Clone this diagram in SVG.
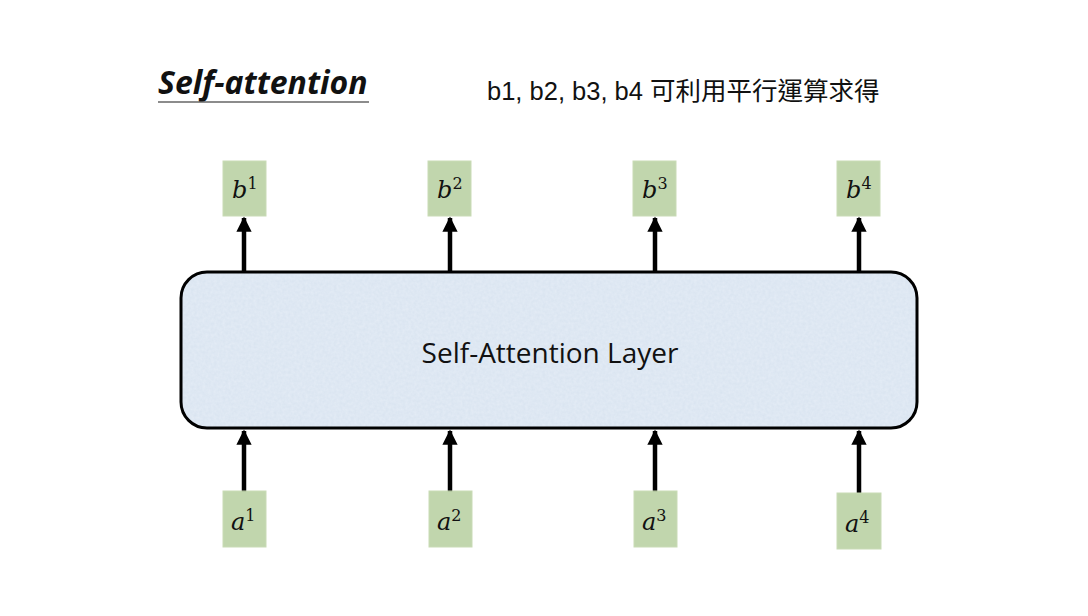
<svg xmlns="http://www.w3.org/2000/svg" width="1088" height="616" viewBox="0 0 1088 616">
<defs>
<style>
.node{fill:#b6cf9f;fill-opacity:0.85;stroke:#c9dbb6;stroke-width:1}
.math{font-family:"DejaVu Serif","Liberation Serif",serif;font-style:italic;font-size:24px;fill:#111}
.sup{font-size:16px;font-style:normal}
.arr{stroke:#000;stroke-width:4.5;fill:none;marker-end:url(#ah)}
</style>
<marker id="ah" viewBox="0 0 10 10" refX="9" refY="5" markerWidth="4" markerHeight="3.4" orient="auto" markerUnits="strokeWidth">
<path d="M0,0 L10,5 L0,10 z" fill="#000"/>
</marker>
<filter id="tex" x="0" y="0" width="100%" height="100%">
<feTurbulence type="fractalNoise" baseFrequency="0.35" numOctaves="2" seed="3" result="n"/>
<feColorMatrix in="n" type="matrix" values="0 0 0 0 0.82  0 0 0 0 0.87  0 0 0 0 0.94  0 0 0 0.7 0" result="c"/>
<feComposite in="c" in2="SourceGraphic" operator="in" result="t"/>
<feMerge><feMergeNode in="SourceGraphic"/><feMergeNode in="t"/></feMerge>
</filter>
</defs>
<rect width="1088" height="616" fill="#fff"/>

<g id="title">
<text x="158" y="94" font-family="Open Sans,Liberation Sans,sans-serif" font-weight="bold" font-style="italic" font-size="32" fill="#111">Self-attention</text>
<line x1="158" y1="102" x2="369" y2="102" stroke="#666" stroke-width="1.5"/>
</g>
<g id="subtitle">
<text x="487" y="100" font-family="Liberation Sans,'Noto Sans CJK TC',sans-serif" font-size="25.5" fill="#111">b1, b2, b3, b4 可利用平行運算求得</text>
</g>

<g id="layer">
<rect x="181" y="272" width="736" height="156" rx="26" fill="#d8e3f0" filter="url(#tex)"/>
<rect x="181" y="272" width="736" height="156" rx="26" fill="none" stroke="#000" stroke-width="3"/>
<text x="550" y="363" text-anchor="middle" font-family="Open Sans,Liberation Sans,sans-serif" font-size="28" fill="#111">Self-Attention Layer</text>
</g>

<g id="connectors">
<line class="arr" x1="244" y1="271" x2="244" y2="218"/>
<line class="arr" x1="450" y1="271" x2="450" y2="218"/>
<line class="arr" x1="655" y1="271" x2="655" y2="218"/>
<line class="arr" x1="859" y1="271" x2="859" y2="218"/>
<line class="arr" x1="244" y1="492" x2="244" y2="431"/>
<line class="arr" x1="450" y1="492" x2="450" y2="431"/>
<line class="arr" x1="655" y1="492" x2="655" y2="431"/>
<line class="arr" x1="859" y1="493" x2="859" y2="431"/>
</g>

<g id="b1"><rect class="node" x="223" y="161" width="43" height="55"/><text class="math" x="232" y="198">b<tspan class="sup" dy="-9">1</tspan></text></g>
<g id="b2"><rect class="node" x="428" y="161" width="43" height="55"/><text class="math" x="437" y="198">b<tspan class="sup" dy="-9">2</tspan></text></g>
<g id="b3"><rect class="node" x="633" y="161" width="43" height="55"/><text class="math" x="642" y="198">b<tspan class="sup" dy="-9">3</tspan></text></g>
<g id="b4"><rect class="node" x="837" y="161" width="43" height="55"/><text class="math" x="846" y="198">b<tspan class="sup" dy="-9">4</tspan></text></g>

<g id="a1"><rect class="node" x="223" y="491" width="43" height="56"/><text class="math" x="231" y="530">a<tspan class="sup" dy="-9">1</tspan></text></g>
<g id="a2"><rect class="node" x="429" y="491" width="43" height="56"/><text class="math" x="437" y="530">a<tspan class="sup" dy="-9">2</tspan></text></g>
<g id="a3"><rect class="node" x="634" y="491" width="43" height="56"/><text class="math" x="642" y="530">a<tspan class="sup" dy="-9">3</tspan></text></g>
<g id="a4"><rect class="node" x="837" y="493" width="44" height="56"/><text class="math" x="845" y="532">a<tspan class="sup" dy="-9">4</tspan></text></g>
</svg>
